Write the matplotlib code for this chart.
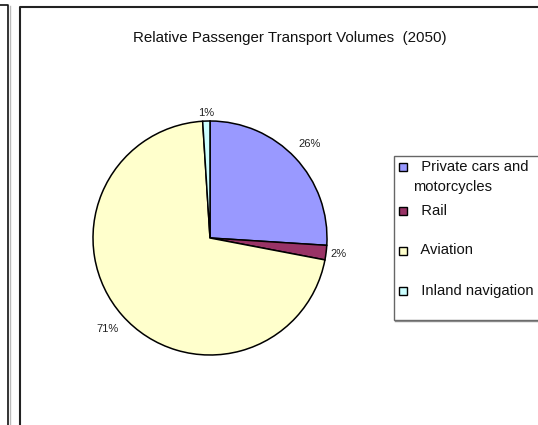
import numpy as np
import matplotlib.pyplot as plt
from matplotlib.lines import Line2D
from matplotlib.patches import Rectangle

plt.rcParams['font.family'] = ['Liberation Sans', 'DejaVu Sans']

modes = ['Private cars and motorcycles', 'Rail', 'Aviation', 'Inland navigation']
legend_labels = ['  Private cars and\nmotorcycles', '  Rail', '  Aviation', '  Inland navigation']
shares = [26, 2, 71, 1]
colors = ['#9999FF', '#993366', '#FFFFCC', '#CCFFFF']

W, H = 538, 425
fig = plt.figure(figsize=(W / 100, H / 100), dpi=100)


def fx(x):
    return x / W


def fy(y):
    return 1 - y / H


# frames (previous chart edge + this chart's area)
fig.add_artist(Line2D([fx(0), fx(8), fx(8)], [fy(5), fy(5), fy(425)], color='#111111', lw=1.2))
fig.add_artist(Line2D([fx(10), fx(10)], [fy(6), fy(425)], color='#bbbbbb', lw=1.0))
fig.add_artist(Line2D([fx(20), fx(20), fx(540)], [fy(425), fy(7), fy(7)], color='#222222', lw=1.5))

# pie: centre (210, 238) px, radius 117 px
cx, cy, r = 210, 238, 117
ax = fig.add_axes([fx(cx - r), fy(cy + r), 2 * r / W, 2 * r / H])
wedges, texts, autotexts = ax.pie(
    shares, colors=colors, startangle=90, counterclock=False,
    autopct='%.0f%%', pctdistance=1.14,
    wedgeprops=dict(edgecolor='black', linewidth=1.1),
    textprops=dict(fontsize=8, color='#222222'))
# label distances from centre, as in the original (Excel-style outside labels)
label_dist = [1.17, 1.11, 1.17, 1.07]
for w, t, d in zip(wedges, autotexts, label_dist):
    a = np.deg2rad((w.theta1 + w.theta2) / 2)
    t.set_position((d * np.cos(a), d * np.sin(a)))
ax.set_xlim(-1, 1)
ax.set_ylim(-1, 1)
ax.set_aspect('auto')
ax.axis('off')

fig.text(fx(290), fy(38), 'Relative Passenger Transport Volumes  (2050)',
         ha='center', va='center', fontsize=10.9, color='#111111')

# legend box
fig.add_artist(Rectangle((fx(394), fy(320)), fx(560) - fx(394), fy(156) - fy(320),
                         facecolor='white', edgecolor='#666666', lw=1.0))
fig.add_artist(Line2D([fx(395), fx(540)], [fy(321), fy(321)], color='#888888', lw=1.0))

marker_y = [167, 210.5, 250.5, 290.5]
for w, lab, my in zip(wedges, legend_labels, marker_y):
    fig.add_artist(Rectangle((fx(399), fy(my + 4)), 8 / W, 8 / H,
                             facecolor=w.get_facecolor(), edgecolor='black', lw=1.0))
    for i, line in enumerate(lab.split('\n')):
        fig.text(fx(413), fy(my + i * 20), line, ha='left', va='center',
                 fontsize=10.6, color='#111111')

fig.savefig('out.png', dpi=100)
